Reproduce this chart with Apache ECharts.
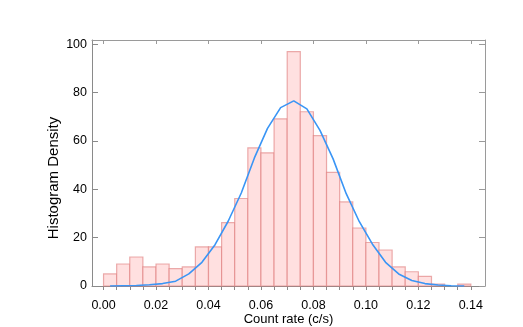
<!DOCTYPE html>
<html>
<head>
<meta charset="utf-8">
<script src="https://cdn.jsdelivr.net/npm/echarts@6/dist/echarts.min.js"></script>
<style>
    html, body { margin: 0; padding: 0; background: #fff; }
    #chart { width: 523px; height: 327px; }
</style>
</head>
<body>
<div id="chart"></div>
<script>
    // histogram bins (left edges), width 0.005
    const binStart = [0.000, 0.005, 0.010, 0.015, 0.020, 0.025, 0.030, 0.035, 0.040, 0.045,
        0.050, 0.055, 0.060, 0.065, 0.070, 0.075, 0.080, 0.085, 0.090, 0.095,
        0.100, 0.105, 0.110, 0.115, 0.120, 0.125, 0.130, 0.135];
    const binWidth = 0.005;
    const density = [5.0, 9.1, 12.0, 7.9, 9.1, 7.2, 7.9, 16.2, 16.2, 26.2,
        36.2, 57.2, 55.1, 69.2, 97.0, 72.1, 62.2, 47.0, 34.8, 24.0,
        18.0, 14.9, 7.9, 5.9, 4.0, 0.8, 0, 0.8];
    // fitted curve, sampled at bin centres
    const fitX = [0.0025, 0.0075, 0.0125, 0.0175, 0.0225, 0.0275, 0.0325, 0.0375, 0.0425, 0.0475,
        0.0525, 0.0575, 0.0625, 0.0675, 0.0725, 0.0775, 0.0825, 0.0875, 0.0925, 0.0975,
        0.1025, 0.1075, 0.1125, 0.1175, 0.1225, 0.1275, 0.1325, 0.1375];
    const fitY = [0.0, 0.1, 0.2, 0.5, 1.0, 2.0, 5.0, 9.8, 17.1, 26.8,
        38.5, 53.0, 65.2, 73.8, 76.6, 73.3, 64.4, 52.6, 38.2, 26.6,
        17.3, 9.8, 5.0, 2.3, 1.0, 0.4, 0.1, 0.0];
    const xTicks = [0, 0.02, 0.04, 0.06, 0.08, 0.10, 0.12, 0.14];
    const xMinorTicks = [0, 0.005, 0.01, 0.015, 0.02, 0.025, 0.03, 0.035, 0.04, 0.045, 0.05, 0.055,
        0.06, 0.065, 0.07, 0.075, 0.08, 0.085, 0.09, 0.095, 0.1, 0.105, 0.11, 0.115, 0.12,
        0.125, 0.13, 0.135, 0.14];
    const yTicks = [0, 20, 40, 60, 80, 100];

    const font = 'Liberation Sans, Arial, Helvetica, sans-serif';
    const axisGray = '#8a8a8a';
    const xMin = -0.0044, xMax = 0.1454;
    const yMin = 0, yMax = 101.8;

    const chart = echarts.init(document.getElementById('chart'));
    const option = {
        animation: false,
        backgroundColor: '#fff',
        grid: { left: 92, right: 38, top: 40, bottom: 41, outerBoundsMode: 'none' },
        xAxis: [{
            type: 'value',
            min: xMin,
            max: xMax,
            name: 'Count rate (c/s)',
            nameLocation: 'middle',
            nameGap: 27,
            nameMoveOverlap: false,
            nameTextStyle: { color: '#000', fontSize: 13, fontFamily: font },
            axisLine: { show: true, onZero: false, lineStyle: { color: axisGray, width: 1 } },
            axisTick: { show: true, inside: false, length: 4, customValues: xMinorTicks, lineStyle: { color: axisGray } },
            axisLabel: {
                customValues: xTicks,
                margin: 13,
                color: '#000',
                fontSize: 12.5,
                fontFamily: font,
                formatter: v => v.toFixed(2)
            },
            splitLine: { show: false }
        }, {
            type: 'value',
            position: 'top',
            min: xMin,
            max: xMax,
            axisLine: { show: true, onZero: false, lineStyle: { color: '#9a9a9a', width: 1 } },
            axisTick: { show: true, inside: true, length: 4, customValues: xTicks, lineStyle: { color: '#9a9a9a' } },
            axisLabel: { show: false },
            splitLine: { show: false }
        }],
        yAxis: [{
            type: 'value',
            min: yMin,
            max: yMax,
            name: 'Histogram Density',
            nameLocation: 'middle',
            nameGap: 31,
            nameMoveOverlap: false,
            nameTextStyle: { color: '#000', fontSize: 15, fontFamily: font, padding: [0, 30, 0, 0] },
            axisLine: { show: true, onZero: false, lineStyle: { color: axisGray, width: 1 } },
            axisTick: { show: true, inside: true, length: 6, customValues: yTicks, lineStyle: { color: axisGray } },
            axisLabel: { customValues: yTicks, margin: 5, color: '#000', fontSize: 12.5, fontFamily: font },
            splitLine: { show: false }
        }, {
            type: 'value',
            position: 'right',
            min: yMin,
            max: yMax,
            axisLine: { show: true, onZero: false, lineStyle: { color: '#9a9a9a', width: 1 } },
            axisTick: { show: true, inside: true, length: 6, customValues: yTicks, lineStyle: { color: '#9a9a9a' } },
            axisLabel: { show: false },
            splitLine: { show: false }
        }],
        series: [{
            type: 'custom',
            xAxisIndex: 0,
            yAxisIndex: 0,
            data: binStart.map((x, i) => [x, density[i]]),
            renderItem(params, api) {
                const x0 = api.value(0);
                const h = api.value(1);
                if (!h) return null;
                const p0 = api.coord([x0, h]);
                const p1 = api.coord([x0 + binWidth, 0]);
                return {
                    type: 'rect',
                    shape: { x: p0[0], y: p0[1], width: p1[0] - p0[0], height: p1[1] - p0[1] },
                    style: { fill: '#ffe0e0', stroke: 'rgba(222,120,120,0.6)', lineWidth: 1.2 }
                };
            },
            z: 2
        }, {
            type: 'line',
            xAxisIndex: 0,
            yAxisIndex: 0,
            data: fitX.map((x, i) => [x, fitY[i]]),
            showSymbol: false,
            symbol: 'none',
            lineStyle: { color: '#3a95f5', width: 1.6 },
            z: 3
        }]
    };
    chart.setOption(option);
</script>
</body>
</html>
